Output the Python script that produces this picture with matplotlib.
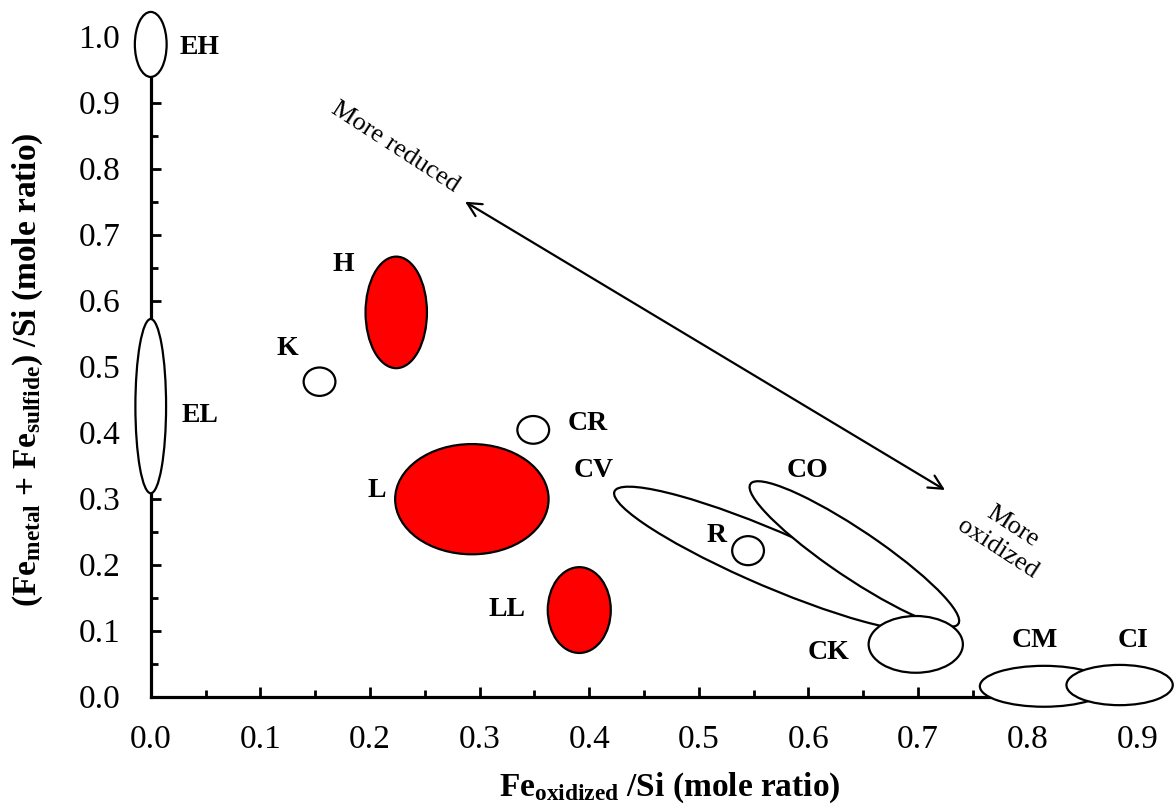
import matplotlib
matplotlib.use('Agg')
import matplotlib.pyplot as plt
from matplotlib.patches import Ellipse
from matplotlib.ticker import MultipleLocator

plt.rcParams['font.family'] = ['Liberation Serif', 'DejaVu Serif']
plt.rcParams['mathtext.fontset'] = 'custom'
plt.rcParams['mathtext.rm'] = 'Liberation Serif'
plt.rcParams['mathtext.bf'] = 'Liberation Serif:bold'
plt.rcParams['mathtext.it'] = 'Liberation Serif:italic'

# chondrite groups: centre, size (data units), tilt
groups = ['EH', 'EL', 'H', 'K', 'CR', 'L', 'LL', 'CV', 'CO', 'R', 'CK', 'CM', 'CI']
fe_ox = [0.000, 0.000, 0.224, 0.154, 0.349, 0.293, 0.391, 0.566, 0.642, 0.545, 0.698, 0.815, 0.884]
fe_red = [0.988, 0.440, 0.582, 0.477, 0.404, 0.299, 0.131, 0.209, 0.216, 0.221, 0.079, 0.0155, 0.0174]
ell_w = [0.029, 0.028, 0.056, 0.029, 0.029, 0.140, 0.0575, 0.352, 0.286, 0.029, 0.086, 0.117, 0.097]
ell_h = [0.0985, 0.264, 0.169, 0.043, 0.042, 0.167, 0.130, 0.075, 0.058, 0.044, 0.086, 0.062, 0.061]
ell_ang = [0, 0, 0, 0, 0, 0, 0, -36.5, -49.4, 0, 0, 0, 0]
ordinary = ['H', 'L', 'LL']

# label positions
lab_x = [0.045, 0.045, 0.1755, 0.125, 0.399, 0.2065, 0.325, 0.4045, 0.599, 0.5167, 0.618, 0.8068, 0.8963]
lab_y = [0.984, 0.4265, 0.654, 0.528, 0.413, 0.3114, 0.1326, 0.3432, 0.3432, 0.2447, 0.0674, 0.0856, 0.0856]

fig = plt.figure(figsize=(11.74, 8.10), dpi=100)
ax = fig.add_axes([0.1284, 0.1401, 986.4 / 1174, 660 / 810])

for i, g in enumerate(groups):
    fc = 'red' if g in ordinary else 'white'
    e = Ellipse((fe_ox[i], fe_red[i]), ell_w[i], ell_h[i], angle=ell_ang[i],
                facecolor=fc, edgecolor='black', lw=1.6, zorder=3, clip_on=False)
    ax.add_patch(e)
    ax.text(lab_x[i], lab_y[i], g, fontsize=20, fontweight='bold',
            ha='center', va='center', zorder=4)

ax.annotate('', xy=(0.2868, 0.7497), xytext=(0.7247, 0.3129),
            arrowprops=dict(arrowstyle='<->', lw=1.6, color='black',
                            mutation_scale=25, shrinkA=0, shrinkB=0))
ax.text(0.2229, 0.8318, 'More reduced', fontsize=19, rotation=-33,
        ha='center', va='center', rotation_mode='anchor')
ax.text(0.7795, 0.241, 'More\noxidized', fontsize=19, rotation=-33,
        ha='center', va='center', rotation_mode='anchor', multialignment='center',
        linespacing=1.25)

ax.set_xlim(0, 0.9)
ax.set_ylim(0, 1.0)
ax.xaxis.set_major_locator(MultipleLocator(0.1))
ax.xaxis.set_minor_locator(MultipleLocator(0.05))
ax.yaxis.set_major_locator(MultipleLocator(0.1))
ax.yaxis.set_minor_locator(MultipleLocator(0.05))
ax.xaxis.set_major_formatter(plt.FuncFormatter(lambda v, p: f'{v:.1f}'))
ax.yaxis.set_major_formatter(plt.FuncFormatter(lambda v, p: f'{v:.1f}'))

for s in ['top', 'right']:
    ax.spines[s].set_visible(False)
for s in ['left', 'bottom']:
    ax.spines[s].set_linewidth(2.3)

ax.tick_params(which='both', direction='in', width=2, labelsize=24)
ax.tick_params(which='major', length=7)
ax.tick_params(which='minor', length=5)
ax.tick_params(axis='x', pad=20)
ax.tick_params(axis='y', pad=22)

ax.set_xlabel(r'Fe$_{\mathbf{oxidized}}$ /Si (mole ratio)', fontsize=24, fontweight='bold')
ax.set_ylabel(r'(Fe$_{\mathbf{metal}}$ + Fe$_{\mathbf{sulfide}}$) /Si (mole ratio)',
              fontsize=24, fontweight='bold')
ax.xaxis.set_label_coords(0.526, -0.112)
ax.yaxis.set_label_coords(-0.107, 0.495)

fig.savefig('out.png', dpi=100)
